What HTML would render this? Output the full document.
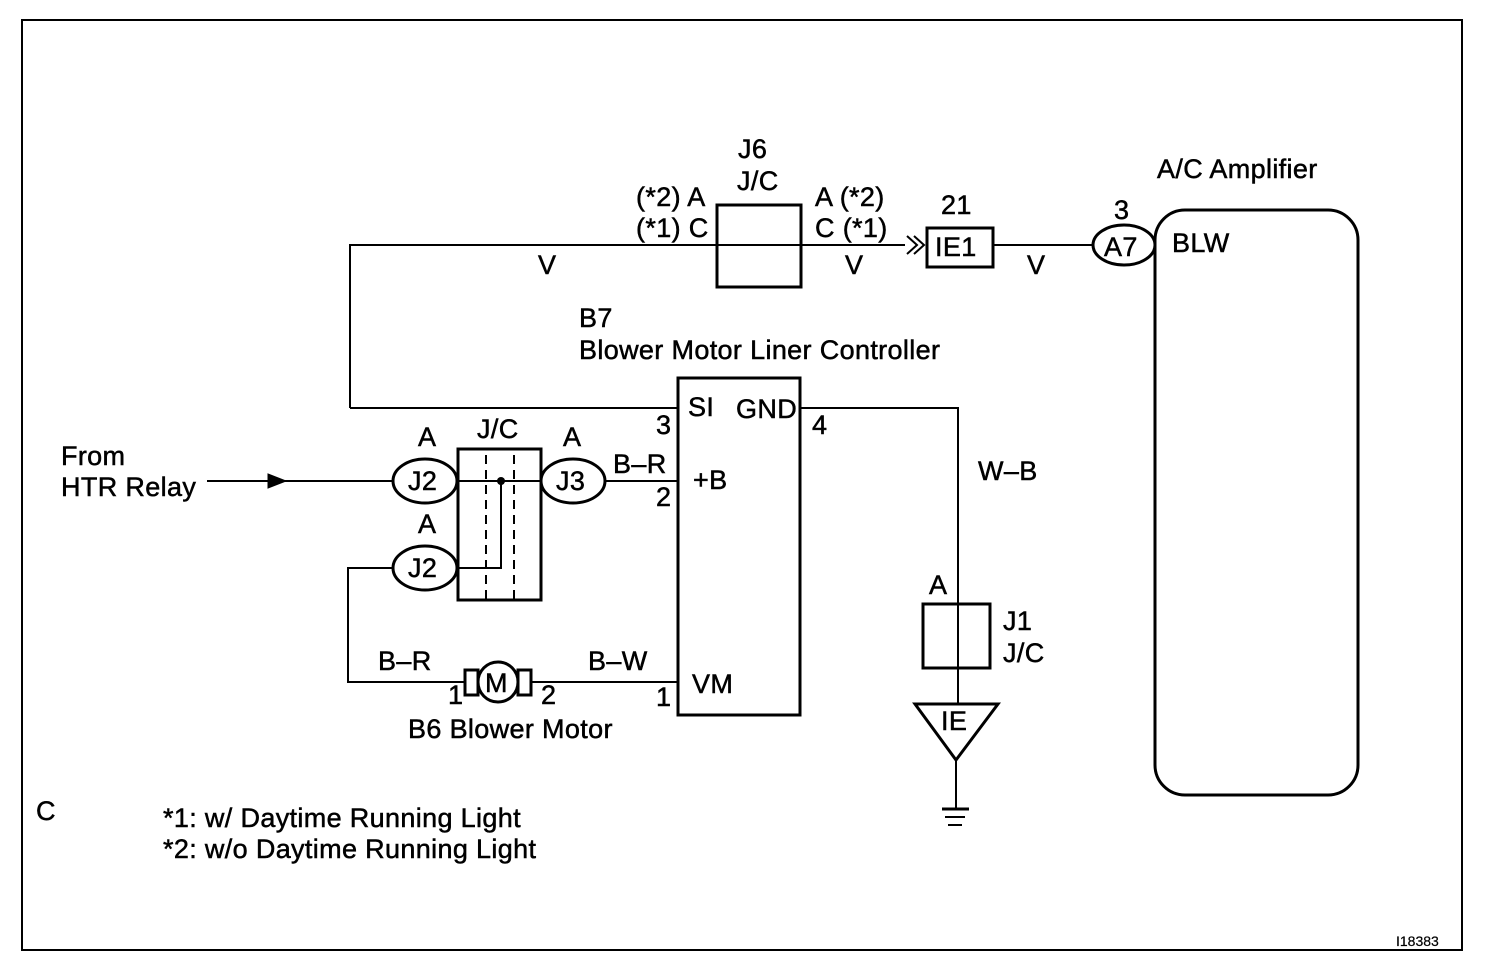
<!DOCTYPE html>
<html><head><style>body{margin:0;background:#fff}svg{display:block}text{font-family:"Liberation Sans",Arial,sans-serif;font-size:27px;letter-spacing:0.35px;fill:#000;stroke:#000;stroke-width:0.5px}</style></head><body>
<svg width="1504" height="968" viewBox="0 0 1504 968" xmlns="http://www.w3.org/2000/svg">
<g fill="none" stroke="#000">
<rect x="22" y="20" width="1440" height="930" stroke-width="2"/>
<polyline points="350,408 350,245 905,245" stroke-width="2"/>
<path d="M907,236 L917,245 L907,254 M914,236 L924,245 L914,254" stroke-width="2"/>
<rect x="717" y="205" width="84" height="82" stroke-width="3"/>
<rect x="927" y="228" width="66" height="39" stroke-width="3"/>
<line x1="993" y1="245" x2="1093" y2="245" stroke-width="2"/>
<ellipse cx="1124" cy="245" rx="31" ry="20" stroke-width="3"/>
<rect x="1155" y="210" width="203" height="585" rx="30" stroke-width="3"/>
<line x1="350" y1="408" x2="678" y2="408" stroke-width="2"/>
<rect x="678" y="378" width="122" height="337" stroke-width="3"/>
<polyline points="800,408 958,408 958,704" stroke-width="2"/>
<rect x="923" y="604" width="67" height="64" stroke-width="3"/>
<polygon points="915,704 998,704 956,760" stroke-width="3"/>
<line x1="956" y1="760" x2="956" y2="808" stroke-width="2"/>
<line x1="942" y1="809" x2="969" y2="809" stroke-width="3"/>
<line x1="945" y1="817" x2="965" y2="817" stroke-width="2"/>
<line x1="948" y1="825" x2="962" y2="825" stroke-width="2"/>
<line x1="207" y1="481" x2="393" y2="481" stroke-width="2"/>
<polygon points="268,474 286,481 268,488" fill="#000" stroke-width="1"/>
<ellipse cx="425" cy="481" rx="32" ry="22" stroke-width="3"/>
<rect x="458" y="449" width="83" height="151" stroke-width="3"/>
<line x1="486" y1="455" x2="486" y2="600" stroke-width="2" stroke-dasharray="9,6"/>
<line x1="514" y1="455" x2="514" y2="600" stroke-width="2" stroke-dasharray="9,6"/>
<line x1="458" y1="481" x2="541" y2="481" stroke-width="2"/>
<polyline points="501,481 501,568 458,568" stroke-width="2"/>
<ellipse cx="573" cy="481" rx="32" ry="22" stroke-width="3"/>
<line x1="605" y1="481" x2="678" y2="481" stroke-width="2"/>
<ellipse cx="425" cy="568" rx="32" ry="22" stroke-width="3"/>
<polyline points="393,568 348,568 348,682 465,682" stroke-width="2"/>
<rect x="465" y="670" width="13" height="25" stroke-width="3"/>
<circle cx="498" cy="682" r="20" stroke-width="3"/>
<rect x="518" y="670" width="13" height="25" stroke-width="3"/>
<line x1="531" y1="682" x2="678" y2="682" stroke-width="2"/>
</g>
<circle cx="501" cy="481" r="4" fill="#000"/>
<text x="738" y="158">J6</text>
<text x="737" y="190">J/C</text>
<text x="636" y="206">(*2) A</text>
<text x="636" y="237">(*1) C</text>
<text x="815" y="206">A (*2)</text>
<text x="815" y="237">C (*1)</text>
<text x="538" y="274">V</text>
<text x="845" y="274">V</text>
<text x="941" y="214">21</text>
<text x="935" y="256">IE1</text>
<text x="1027" y="274">V</text>
<text x="1114" y="219">3</text>
<text x="1104" y="256">A7</text>
<text x="1157" y="178">A/C Amplifier</text>
<text x="1172" y="252">BLW</text>
<text x="579" y="327">B7</text>
<text x="579" y="359">Blower Motor Liner Controller</text>
<text x="688" y="416">SI</text>
<text x="736" y="418">GND</text>
<text x="656" y="434">3</text>
<text x="812" y="434">4</text>
<text x="978" y="480">W–B</text>
<text x="61" y="465">From</text>
<text x="61" y="496">HTR Relay</text>
<text x="418" y="446">A</text>
<text x="477" y="438">J/C</text>
<text x="563" y="446">A</text>
<text x="408" y="490">J2</text>
<text x="556" y="490">J3</text>
<text x="613" y="473">B–R</text>
<text x="693" y="489">+B</text>
<text x="656" y="506">2</text>
<text x="418" y="533">A</text>
<text x="408" y="577">J2</text>
<text x="929" y="594">A</text>
<text x="1003" y="630">J1</text>
<text x="1003" y="662">J/C</text>
<text x="941" y="730">IE</text>
<text x="378" y="670">B–R</text>
<text x="588" y="670">B–W</text>
<text x="485" y="692">M</text>
<text x="448" y="704">1</text>
<text x="541" y="704">2</text>
<text x="656" y="706">1</text>
<text x="692" y="693">VM</text>
<text x="408" y="738">B6 Blower Motor</text>
<text x="36" y="820">C</text>
<text x="163" y="827">*1: w/ Daytime Running Light</text>
<text x="163" y="858">*2: w/o Daytime Running Light</text>
<text x="1396" y="946" style="font-size:14px;stroke-width:0.2px;letter-spacing:0">I18383</text>
</svg>
</body></html>
